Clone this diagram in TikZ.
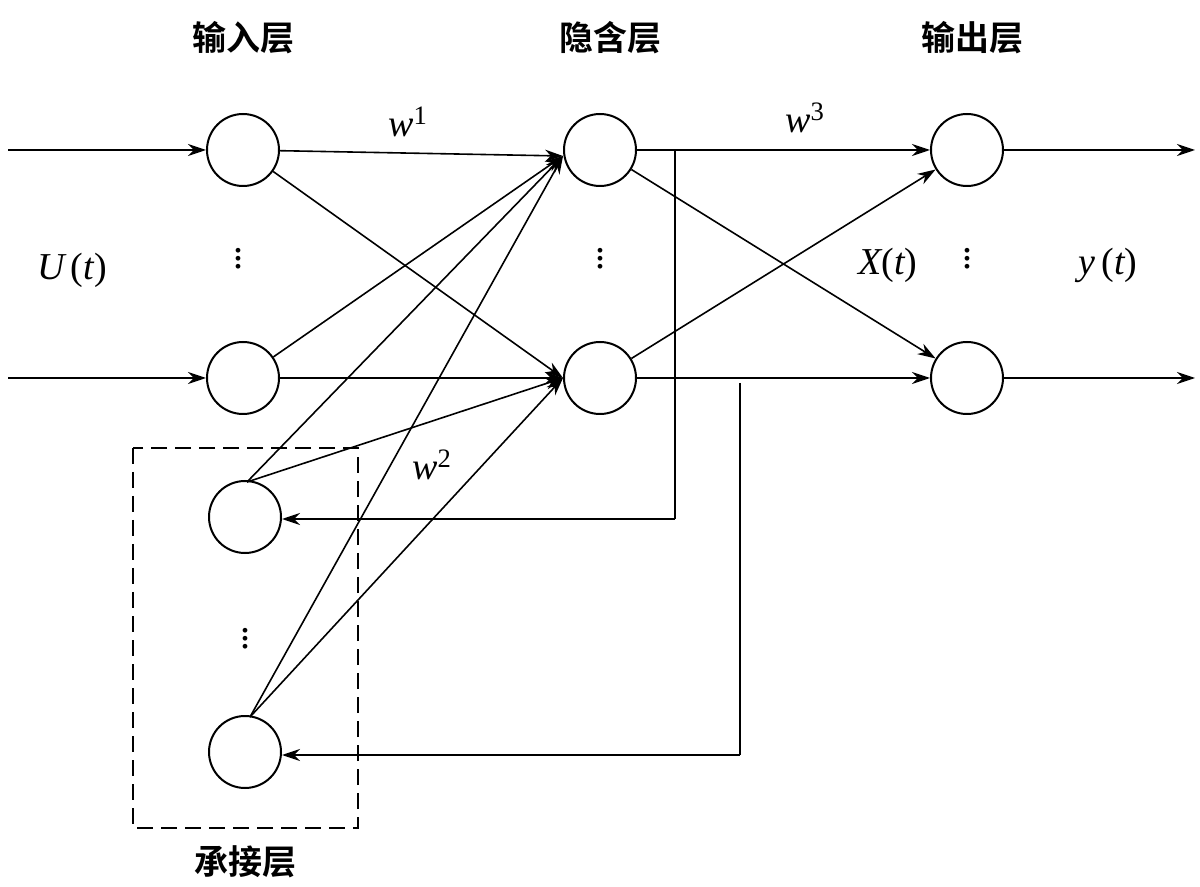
\documentclass[tikz,border=0pt]{standalone}
\usepackage{fontspec}
\setmainfont{Liberation Serif}
\newfontfamily\cjk{Noto Sans CJK SC Bold}
\usetikzlibrary{arrows.meta}
\begin{document}
\begin{tikzpicture}[x=0.5pt,y=-0.5pt,
  neuron/.style={circle,draw,line width=1pt,minimum size=36pt,inner sep=0},
  conn/.style={line width=0.8pt,-{Stealth[length=9pt,width=6pt]}},
  plain/.style={line width=0.8pt},
  lbl/.style={font=\cjk\fontsize{17}{17}\selectfont},
  mth/.style={font=\fontsize{19}{19}\selectfont\itshape},
  dots/.style={font=\fontsize{20}{20}\selectfont,inner sep=0}]
\useasboundingbox (0,0) rectangle (1200,887);
\node[neuron] (i1) at (243,150) {};
\node[neuron] (i2) at (243,378) {};
\node[neuron] (c1) at (245,517) {};
\node[neuron] (c2) at (245,752) {};
\node[neuron] (h1) at (600,150) {};
\node[neuron] (h2) at (600,378) {};
\node[neuron] (o1) at (967,150) {};
\node[neuron] (o2) at (967,378) {};
\draw[dashed,line width=0.9pt,dash pattern=on 8pt off 4pt] (133,448) rectangle (358,828);
\node[lbl] (t1) at (243,38) {输入层};
\node[lbl] (t2) at (610,38) {隐含层};
\node[lbl] (t3) at (972,38) {输出层};
\node[lbl] (t4) at (245,862) {承接层};
\node[mth] (w1) at (408,122) {w$^{\mathrm{1}}$};
\node[mth] (w3) at (805,118) {w$^{\mathrm{3}}$};
\node[mth] (w2) at (432,465) {w$^{\mathrm{2}}$};
\node[mth] (U) at (72,270) {U\,\upshape(\itshape t\upshape)};
\node[mth] (X) at (888,265) {X\upshape(\itshape t\upshape)};
\node[mth] (Y) at (1108,265) {y\,\upshape(\itshape t\upshape)};
\foreach \p/\n in {{(238,253)}/d1,{(600,253)}/d2,{(967,253)}/d3,{(245,633)}/d4}
  \node[dots] (\n) at \p {$\vdots$};
\coordinate (a1) at (8,150); \coordinate (a2) at (8,378);
\coordinate (b1) at (1195,150); \coordinate (b2) at (1195,378);
\draw[conn] (a1) -- (i1); \draw[conn] (a2) -- (i2);
\draw[conn] (o1) -- (b1); \draw[conn] (o2) -- (b2);
\coordinate (h1in) at (563,156); \coordinate (h2in) at (563,378);
\foreach \s in {i1,i2} \foreach \t in {h1in,h2in} \draw[conn] (\s) -- (\t);
\coordinate (c1t) at (247,482); \coordinate (c2t) at (250,717);
\foreach \s in {c1t,c2t} \foreach \t in {h1in,h2in} \draw[conn] (\s) -- (\t);
\foreach \s in {h1,h2} \foreach \t in {o1,o2} \draw[conn] (\s) -- (\t);
\coordinate (f1) at (675,150); \coordinate (f1b) at (675,519);
\coordinate (f2) at (740,383); \coordinate (f2b) at (740,755);
\draw[plain] (f1) -- (f1b); \draw[conn] (f1b) -- (c1.east |- f1b);
\draw[plain] (f2) -- (f2b); \draw[conn] (f2b) -- (c2.east |- f2b);
\end{tikzpicture}
\end{document}
